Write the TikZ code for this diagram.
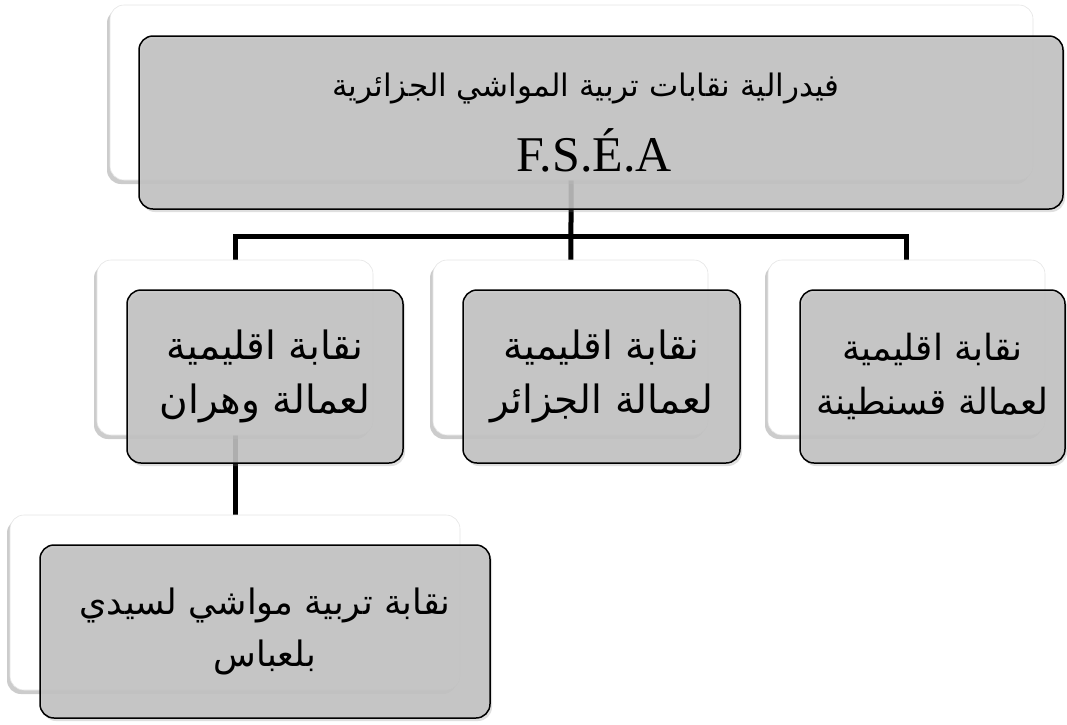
\documentclass[tikz,border=0pt]{standalone}
\usepackage{fontspec}
\setmainfont{Liberation Serif}
\newfontfamily\arabicfont[Script=Arabic]{DejaVu Sans}
\TeXXeTstate=1
\usetikzlibrary{shadows}
\pgfdeclarelayer{bg}
\pgfsetlayers{bg,main}
\begin{document}
\begin{tikzpicture}[x=1pt,y=-1pt,
  backbox/.style={draw=black!10, fill=white, rounded corners=14pt, line width=0.6pt,
    drop shadow={shadow xshift=-3pt, shadow yshift=-4pt, opacity=0.4},
    inner sep=0pt, minimum height=175pt},
  frontbox/.style={draw=black, line width=1.5pt, fill=black!24, fill opacity=0.88,
    text opacity=1, rounded corners=14pt,
    drop shadow={shadow xshift=2pt, shadow yshift=-3pt, opacity=0.25},
    align=center, inner sep=0pt, minimum height=173pt},
  conn/.style={line width=5pt, black},
  lvltext/.style={font=\arabicfont\fontsize{39}{54}\selectfont},
  rtext/.style={font=\arabicfont\fontsize{36}{54}\selectfont},
  lowtext/.style={font=\arabicfont\fontsize{35}{52}\selectfont}
]
\useasboundingbox (0,0) rectangle (1067,724);

% top
\node[backbox, minimum width=923pt] (tb) at (571.5,92.5) {};
\node[frontbox, minimum width=924pt] (tf) at (601,122.5)
  {{\arabicfont\fontsize{31}{36}\selectfont\beginR فيدرالية نقابات تربية المواشي الجزائرية\endR}\hspace*{30pt}\\[24pt]
   {\fontsize{50}{55}\selectfont F.S.É.A}\hspace*{14pt}};

% level 2
\node[backbox, minimum width=276pt] (lb) at (235,347.5) {};
\node[frontbox, minimum width=276pt, lvltext] (lf) at (265,376.5)
  {\beginR نقابة اقليمية\endR\\\beginR لعمالة وهران\endR};

\node[backbox, minimum width=275pt] (mb) at (570.5,347.5) {};
\node[frontbox, minimum width=277pt, lvltext] (mf) at (601.5,376.5)
  {\beginR نقابة اقليمية\endR\\\beginR لعمالة الجزائر\endR};

\node[backbox, minimum width=277pt] (rb) at (906.5,347.5) {};
\node[frontbox, minimum width=265pt, rtext] (rf) at (932.5,376.5)
  {\beginR نقابة اقليمية\endR\\\beginR لعمالة قسنطينة\endR};

% bottom
\node[backbox, minimum width=450pt] (bb) at (235,602.5) {};
\node[frontbox, minimum width=450pt, lowtext] (bf) at (265,631.5)
  {\beginR نقابة تربية مواشي لسيدي\endR\\\beginR بلعباس\endR};

\coordinate (j) at (571,236);
\begin{pgfonlayer}{bg}
  \draw[conn] (tb.center) -- (mb.center);
  \draw[conn] (lb.center) |- (j) -| (rb.center);
  \draw[conn] (lb.center) -- (bb.center);
\end{pgfonlayer}
\end{tikzpicture}
\end{document}
